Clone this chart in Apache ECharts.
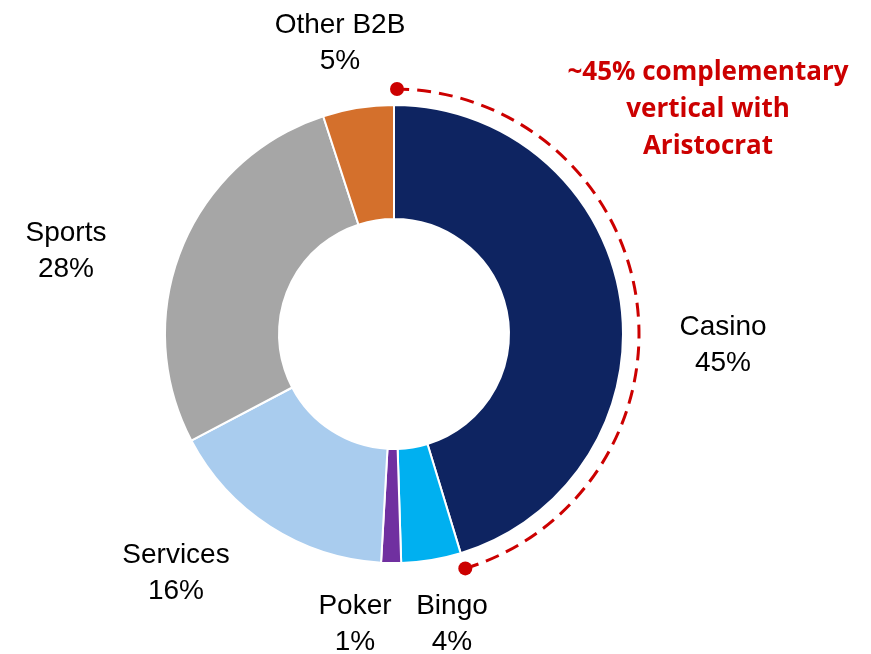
<!DOCTYPE html>
<html>
<head>
  <meta charset="utf-8" />
  <title>Segments</title>
  <script src="https://cdn.jsdelivr.net/npm/echarts@6/dist/echarts.min.js"></script>
  <style>
    html, body { margin: 0; padding: 0; background: #fff; }
  </style>
</head>
<body>
<div id="main" style="width:871px;height:654px;"></div>
<script type="text/javascript">
  // segment shares, clockwise from 12 o'clock
  var categories = ['Casino', 'Bingo', 'Poker', 'Services', 'Sports', 'Other B2B'];
  var shares = [45.3, 4.2, 1.4, 16.4, 27.7, 5.0];
  var shownPct = ['45%', '4%', '1%', '16%', '28%', '5%'];
  var colors = ['#0E2461', '#00B0F0', '#7030A0', '#A9CCEE', '#A6A6A6', '#D4702C'];

  // where each label sits (center of the two-line block)
  var labelPos = [[723, 345], [452, 624], [355, 624], [176, 573], [66, 251], [340, 43]];

  var cx = 394, cy = 334;
  var total = shares.reduce(function (a, b) { return a + b; }, 0);
  var casinoAngle = shares[0] / total * Math.PI * 2;
  var arcR = 245;
  var a0 = -Math.PI / 2, a1 = -Math.PI / 2 + casinoAngle;

  var myChart = echarts.init(document.getElementById('main'));
  var option = {
    backgroundColor: '#fff',
    animation: false,
    series: [
      {
        type: 'pie',
        center: [cx, cy],
        radius: [115, 229],
        startAngle: 90,
        clockwise: true,
        avoidLabelOverlap: false,
        itemStyle: { borderColor: '#fff', borderWidth: 2 },
        label: {
          show: true,
          position: 'outside',
          fontFamily: 'Liberation Sans, Arial, sans-serif',
          fontSize: 28,
          lineHeight: 36,
          color: '#000',
          align: 'center',
          formatter: function (p) {
            return p.name + '\n' + shownPct[p.dataIndex];
          }
        },
        labelLine: { show: false },
        labelLayout: function (p) {
          var pos = labelPos[p.dataIndex];
          return { x: pos[0], y: pos[1], align: 'center', verticalAlign: 'middle' };
        },
        emphasis: { disabled: true },
        data: categories.map(function (c, i) {
          return { name: c, value: shares[i], itemStyle: { color: colors[i] } };
        })
      }
    ],
    graphic: [
      {
        type: 'arc',
        shape: { cx: cx, cy: cy, r: arcR, startAngle: a0 + 0.005, endAngle: a1, clockwise: true },
        style: { stroke: '#CC0000', fill: null, lineWidth: 3, lineDash: [14, 8] }
      },
      {
        type: 'circle',
        shape: { cx: cx + arcR * Math.cos(a0) + 3, cy: cy + arcR * Math.sin(a0), r: 7 },
        style: { fill: '#CC0000' }
      },
      {
        type: 'circle',
        shape: { cx: cx + arcR * Math.cos(a1), cy: cy + arcR * Math.sin(a1), r: 7 },
        style: { fill: '#CC0000' }
      },
      {
        type: 'text',
        x: 708,
        y: 110,
        style: {
          text: '~45% complementary\nvertical with\nAristocrat',
          fill: '#CC0000',
          font: 'bold 26px "Open Sans", sans-serif',
          lineHeight: 37,
          align: 'center',
          verticalAlign: 'middle'
        }
      }
    ]
  };
  myChart.setOption(option);
</script>
</body>
</html>
